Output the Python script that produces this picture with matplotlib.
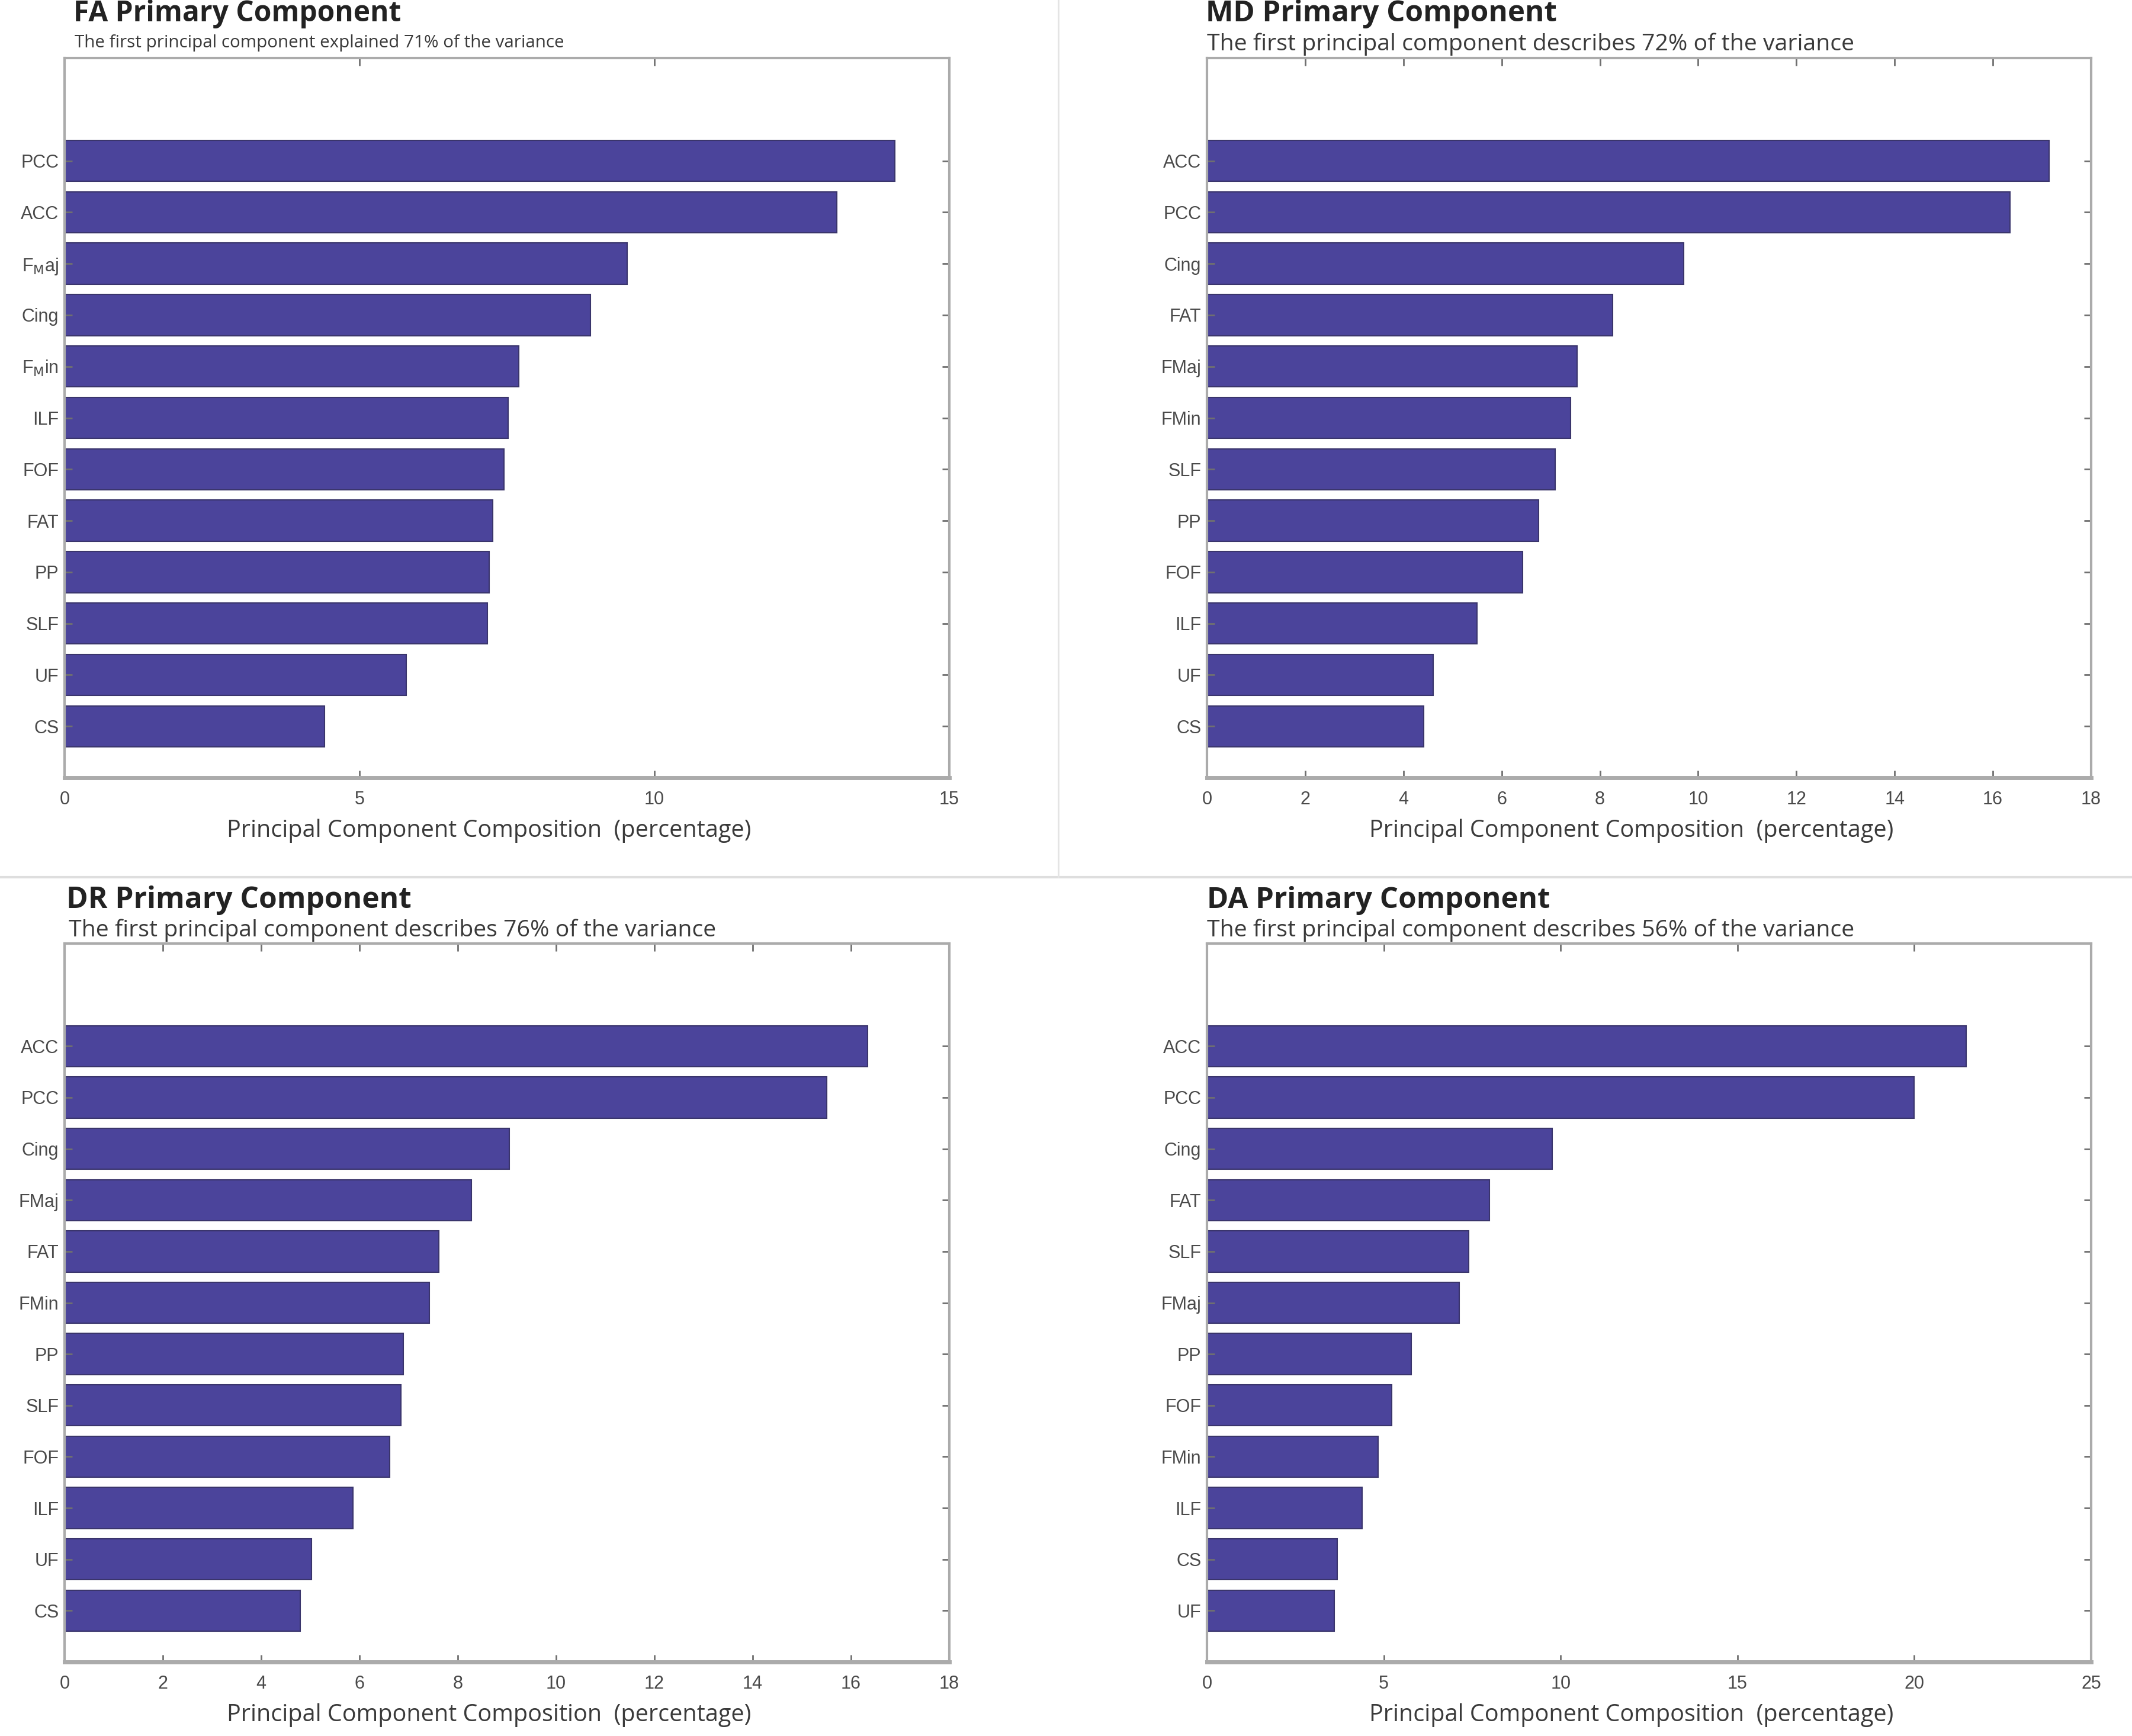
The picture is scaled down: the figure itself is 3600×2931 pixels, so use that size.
import matplotlib
matplotlib.use("Agg")
import matplotlib.pyplot as plt
from matplotlib.lines import Line2D

# values (percent), listed top bar first
fa_labels = ["PCC", "ACC", r"F$_{\mathrm{M}}$aj", "Cing", r"F$_{\mathrm{M}}$in", "ILF",
             "FOF", "FAT", "PP", "SLF", "UF", "CS"]
fa_values = [14.08, 13.09, 9.54, 8.92, 7.70, 7.52, 7.45, 7.26, 7.20, 7.17, 5.79, 4.41]

md_labels = ["ACC", "PCC", "Cing", "FAT", "FMaj", "FMin", "SLF", "PP", "FOF", "ILF", "UF", "CS"]
md_values = [17.14, 16.35, 9.71, 8.26, 7.54, 7.40, 7.09, 6.75, 6.42, 5.50, 4.61, 4.41]

dr_labels = ["ACC", "PCC", "Cing", "FMaj", "FAT", "FMin", "PP", "SLF", "FOF", "ILF", "UF", "CS"]
dr_values = [16.34, 15.51, 9.05, 8.28, 7.61, 7.42, 6.89, 6.84, 6.62, 5.87, 5.02, 4.79]

da_labels = ["ACC", "PCC", "Cing", "FAT", "SLF", "FMaj", "PP", "FOF", "FMin", "ILF", "CS", "UF"]
da_values = [21.47, 20.00, 9.77, 7.98, 7.40, 7.13, 5.78, 5.23, 4.84, 4.38, 3.68, 3.60]

fa_ticks = [0, 5, 10, 15]
md_ticks = [0, 2, 4, 6, 8, 10, 12, 14, 16, 18]
dr_ticks = [0, 2, 4, 6, 8, 10, 12, 14, 16, 18]
da_ticks = [0, 5, 10, 15, 20, 25]

W, H = 3600, 2931
BAR = "#4b449b"
EDGE = "#3a356c"
SPINE = "#ababab"
TXT = "#3a3a3a"


def fx(px):
    return px / W


def fy(py):
    return 1 - py / H


def panel(rect, labels, values, ticks):
    # rect in pixels: left, top, right, bottom
    l, t, r, b = rect
    ax = fig.add_axes([fx(l), fy(b), fx(r - l), (b - t) / H])
    n = len(labels)
    pos = list(range(n, 0, -1))
    ax.barh(pos, values, height=0.8, color=BAR, edgecolor=EDGE, linewidth=1.5)
    ax.set_ylim(0, n + 2)
    ax.set_xlim(ticks[0], ticks[-1])
    ax.set_xticks(ticks)
    ax.set_yticks(pos)
    ax.set_yticklabels(labels, family="Liberation Sans")
    ax.tick_params(axis="both", direction="in", length=9, width=2, color="#707070",
                   labelsize=22, labelcolor="#4a4a4a", top=True, right=True)
    ax.tick_params(axis="x", pad=16)
    ax.tick_params(axis="y", pad=7)
    for lab in ax.get_xticklabels():
        lab.set_family("Liberation Sans")
    for s in ax.spines.values():
        s.set_color(SPINE)
        s.set_linewidth(3)
    ax.spines["bottom"].set_linewidth(5)
    ax.set_xlabel("Principal Component Composition  (percentage)", family="Open Sans",
                  fontsize=28.5, color=TXT)
    ax.xaxis.set_label_coords(0.48, -0.057)
    return ax


fig = plt.figure(figsize=(W / 100, H / 100), dpi=100)
fig.patch.set_facecolor("white")

panel((109, 98, 1603, 1313), fa_labels, fa_values, fa_ticks)
panel((2038, 98, 3531, 1313), md_labels, md_values, md_ticks)
panel((109, 1593, 1603, 2806), dr_labels, dr_values, dr_ticks)
panel((2038, 1593, 3531, 2806), da_labels, da_values, da_ticks)

# titles and subtitles
fig.text(fx(124), fy(36), "FA Primary Component", family="Open Sans", weight="bold",
         fontsize=34.5, color="#222222", va="baseline")
fig.text(fx(126), fy(80), "The first principal component explained 71% of the variance",
         family="Open Sans", fontsize=21.3, color=TXT, va="baseline")

fig.text(fx(2036), fy(36), "MD Primary Component", family="Open Sans", weight="bold",
         fontsize=35.5, color="#222222", va="baseline")
fig.text(fx(2038), fy(85), "The first principal component describes 72% of the variance",
         family="Open Sans", fontsize=28.3, color=TXT, va="baseline")

fig.text(fx(112), fy(1533), "DR Primary Component", family="Open Sans", weight="bold",
         fontsize=35.7, color="#222222", va="baseline")
fig.text(fx(116), fy(1581), "The first principal component describes 76% of the variance",
         family="Open Sans", fontsize=28.3, color=TXT, va="baseline")

fig.text(fx(2038), fy(1533), "DA Primary Component", family="Open Sans", weight="bold",
         fontsize=35.5, color="#222222", va="baseline")
fig.text(fx(2038), fy(1581), "The first principal component describes 56% of the variance",
         family="Open Sans", fontsize=28.3, color=TXT, va="baseline")

# faint panel separators
fig.add_artist(Line2D([0, 1], [fy(1481), fy(1481)], transform=fig.transFigure,
                      color="#dedede", linewidth=3))
fig.add_artist(Line2D([fx(1787), fx(1787)], [1, fy(1481)], transform=fig.transFigure,
                      color="#e4e4e4", linewidth=2))

fig.savefig("out.png", dpi=100, facecolor="white")
